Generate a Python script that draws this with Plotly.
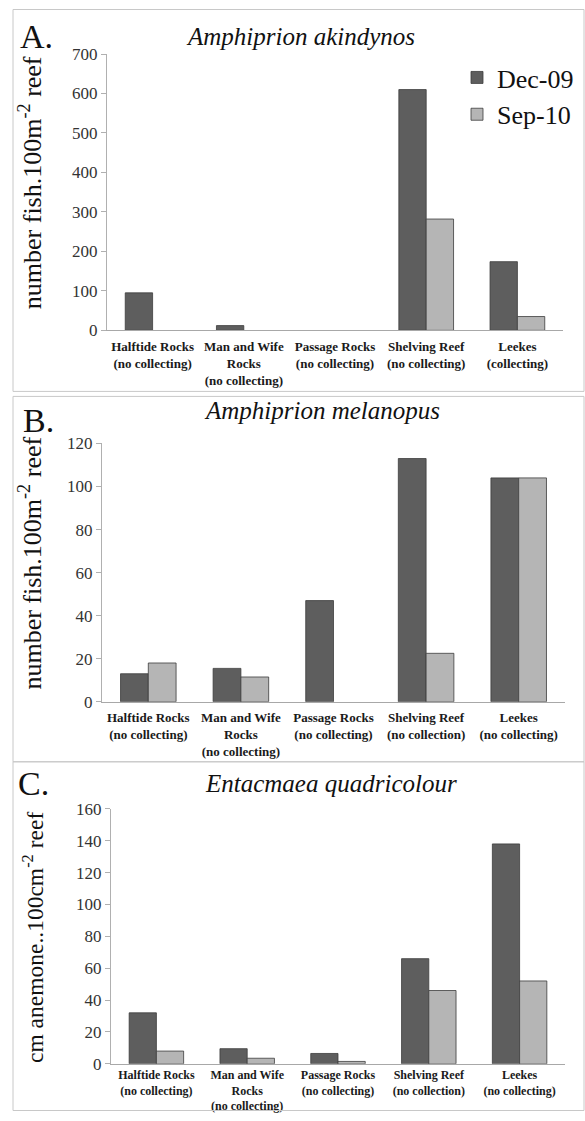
import plotly.graph_objects as go

# ---------------- data ----------------
series_names = ["Dec-09", "Sep-10"]

cats_a = ["Halftide Rocks<br>(no collecting)", "Man and Wife<br>Rocks<br>(no collecting)",
          "Passage Rocks<br>(no collecting)", "Shelving Reef<br>(no collecting)",
          "Leekes<br>(collecting)"]
dec_a = [95, 12, None, 610, 174]
sep_a = [None, None, None, 282, 35]

cats_b = ["Halftide Rocks<br>(no collecting)", "Man and Wife<br>Rocks<br>(no collecting)",
          "Passage Rocks<br>(no collecting)", "Shelving Reef<br>(no collection)",
          "Leekes<br>(no collecting)"]
dec_b = [13, 15.5, 47, 113, 104]
sep_b = [18, 11.5, None, 22.5, 104]

cats_c = ["Halftide Rocks<br>(no collecting)", "Man and Wife<br>Rocks<br>(no collecting)",
          "Passage Rocks<br>(no collecting)", "Shelving Reef<br>(no collection)",
          "Leekes<br>(no collecting)"]
dec_c = [32, 9.5, 6.5, 66, 138]
sep_c = [8, 3.5, 1.5, 46, 52]

titles = ["Amphiprion akindynos", "Amphiprion melanopus", "Entacmaea quadricolour"]
letters = ["A.", "B.", "C."]
ytitles = ["number fish.100m<sup>-2</sup> reef", "number fish.100m<sup>-2</sup> reef",
           "cm anemone..100cm<sup>-2</sup> reef"]
ranges = [[0, 700], [0, 120], [0, 160]]
dticks = [100, 20, 20]

# ---------------- layout helpers ----------------
W, H = 585, 1121
def px(x):
    return x / W
def py(y, raw=False):
    # vertical positions given in reference pixels; corrected for the capture's slight
    # vertical offset/compression; raw=True means already in figure pixels
    yi = y if raw else (y - 9.0) / 0.982
    yi = min(max(yi, 0.5), H - 0.5)
    return 1 - yi / H

DEC_COLOR = "#5e5e5e"
SEP_COLOR = "#b5b5b5"
EDGE = "#3c3c3c"
SERIF = "Liberation Serif"

fig = go.Figure()

panels = [
    dict(cats=cats_a, dec=dec_a, sep=sep_a, x0=107, x1=563, ytop=py(54), ybot=py(330), tl=4, fs=13),
    dict(cats=cats_b, dec=dec_b, sep=sep_b, x0=102, x1=565, ytop=py(443), ybot=py(701), tl=4, fs=13),
    dict(cats=cats_c, dec=dec_c, sep=sep_c, x0=111, x1=565, ytop=py(808), ybot=py(1073, raw=True),
         tl=0, fs=12),
]

for i, p in enumerate(panels):
    n = "" if i == 0 else str(i + 1)
    xa, ya = "x" + n, "y" + n
    fig.add_trace(go.Bar(x=p["cats"], y=p["dec"], name=series_names[0], xaxis=xa, yaxis=ya,
                         marker=dict(color=DEC_COLOR, line=dict(color=EDGE, width=0.8)),
                         showlegend=(i == 0)))
    fig.add_trace(go.Bar(x=p["cats"], y=p["sep"], name=series_names[1], xaxis=xa, yaxis=ya,
                         marker=dict(color=SEP_COLOR, line=dict(color=EDGE, width=0.8)),
                         showlegend=(i == 0)))
    fig.layout["xaxis" + n] = dict(
        domain=[px(p["x0"]), px(p["x1"])], anchor=ya, type="category",
        showline=True, linecolor="#a8a8a8", linewidth=1, ticks="outside", ticklen=p["tl"],
        tickcolor="rgba(0,0,0,0)", showgrid=False,
        tickfont=dict(family=SERIF, size=p["fs"], color="#1a1a1a", weight="bold"),
        tickangle=0, fixedrange=True)
    fig.layout["yaxis" + n] = dict(
        domain=[p["ybot"], p["ytop"]], anchor=xa, range=ranges[i], dtick=dticks[i],
        showline=True, linecolor="#b0b0b0", linewidth=1, ticks="outside", ticklen=5,
        tickcolor="#b0b0b0", showgrid=False, zeroline=False,
        tickfont=dict(family=SERIF, size=17, color="#333333"), fixedrange=True)

# panel letters, titles and y titles (positions in reference pixels)
letter_pos = [(18, 36), (21, 420), (16, 783)]
title_pos = [(300, 36), (322, 410), (331, 783)]
ytitle_pos = [(30, 183), (31, 563), (33, 937)]
ytitle_sizes = [26, 26, 23.5]
for i in range(3):
    fig.add_annotation(x=px(letter_pos[i][0]), y=py(letter_pos[i][1]), xref="paper", yref="paper",
                       text=letters[i], showarrow=False, xanchor="left", yanchor="middle",
                       font=dict(family=SERIF, size=34, color="#111111"))
    fig.add_annotation(x=px(title_pos[i][0]), y=py(title_pos[i][1]), xref="paper", yref="paper",
                       text="<i>" + titles[i] + "</i>", showarrow=False, xanchor="center",
                       yanchor="middle", font=dict(family=SERIF, size=25, color="#111111"))
    fig.add_annotation(x=px(ytitle_pos[i][0]), y=py(ytitle_pos[i][1]), xref="paper", yref="paper",
                       text=ytitles[i], showarrow=False, textangle=-90, xanchor="center",
                       yanchor="middle", font=dict(family=SERIF, size=ytitle_sizes[i], color="#111111"))

# panel frames (kept inside the page)
frames = [(13, py(4), 584, py(391)), (13, py(396), 584, py(761)),
          (13, py(761), 584, py(1120.5, raw=True))]
for (x0, ytop, x1, ybot) in frames:
    fig.add_shape(type="rect", xref="paper", yref="paper", x0=px(x0), x1=px(x1),
                  y0=ybot, y1=ytop, line=dict(color="#c8c8c8", width=1))

fig.update_layout(
    width=W, height=H, autosize=False,
    margin=dict(l=0, r=0, t=0, b=0),
    paper_bgcolor="white", plot_bgcolor="white",
    barmode="group", bargap=0.40, bargroupgap=0,
    legend=dict(x=px(457), y=py(54), xanchor="left", yanchor="top",
                font=dict(family=SERIF, size=26, color="#111111"),
                bgcolor="rgba(0,0,0,0)", tracegroupgap=4, itemwidth=30),
    showlegend=True,
)

pin_css = (
    "document.body.style.margin='0';"
    "var g=document.getElementsByClassName('plotly-graph-div')[0];"
    "if(g){g.style.position='fixed';g.style.left='0px';g.style.top='0px';g.style.overflow='hidden';}"
)
fig.write_html("out.html",
               config={"responsive": False, "displayModeBar": False, "staticPlot": True},
               post_script=pin_css)
